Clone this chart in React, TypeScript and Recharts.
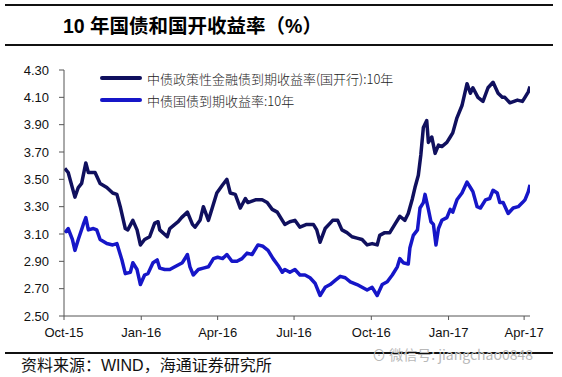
import { LineChart, Line, XAxis, YAxis } from "recharts";

const C = {
  cdb: "#10105e",
  cgb: "#1616c8",
  axis: "#555",
  text: "#111",
  legendText: "#222",
  rule: "#111",
  watermark: "#b8b8b8",
};

// x = days since 2015-10-01
const tickDays = [0, 92, 183, 274, 366, 458, 548];
const tickLabels = ["Oct-15", "Jan-16", "Apr-16", "Jul-16", "Oct-16", "Jan-17", "Apr-17"];
const yTicks = [2.5, 2.7, 2.9, 3.1, 3.3, 3.5, 3.7, 3.9, 4.1, 4.3];

// 中债政策性金融债到期收益率(国开行):10年
const cdbDays = [
  1, 5, 13, 17, 21, 26, 29, 33, 37, 43, 51, 58, 63, 67, 73, 76, 82, 87, 91, 96,
  102, 108, 112, 114, 123, 126, 132, 136, 140, 147, 153, 156, 162, 166, 172, 176, 182, 189, 194, 198,
  204, 210, 216, 219, 228, 236, 242, 248, 254, 260, 263, 269, 275, 281, 289, 297, 301, 305, 311, 317,
  320, 326, 331, 337, 343, 349, 355, 361, 367, 373, 376, 382, 388, 394, 400, 406, 410, 415, 418, 422,
  425, 428, 432, 434, 438, 442, 446, 450, 456, 460, 463, 468, 474, 480, 484, 487, 493, 499, 505, 511,
  517, 522, 525, 531, 540, 546, 549, 553, 555,
];
const cdbYield = [
  3.58, 3.55, 3.37, 3.44, 3.47, 3.62, 3.55, 3.55, 3.55, 3.47, 3.44, 3.4, 3.39, 3.3, 3.14, 3.13, 3.2, 3.13, 3.02, 3.06,
  3.08, 3.18, 3.19, 3.13, 3.08, 3.14, 3.17, 3.19, 3.22, 3.26, 3.17, 3.15, 3.2, 3.3, 3.2, 3.28, 3.4, 3.46, 3.5, 3.4,
  3.39, 3.29, 3.36, 3.33, 3.35, 3.35, 3.33, 3.28, 3.26, 3.2, 3.17, 3.19, 3.2, 3.15, 3.17, 3.17, 3.13, 3.04, 3.14, 3.18,
  3.2, 3.2, 3.13, 3.11, 3.08, 3.07, 3.06, 3.02, 3.03, 3.02, 3.09, 3.11, 3.11, 3.17, 3.23, 3.2, 3.25, 3.36, 3.44, 3.53,
  3.68, 3.88, 3.93, 3.77, 3.81, 3.69, 3.75, 3.74, 3.77, 3.81, 3.84, 3.95, 4.04, 4.2, 4.13, 4.17, 4.1, 4.07, 4.17, 4.21,
  4.13, 4.1, 4.1, 4.06, 4.08, 4.07, 4.1, 4.14, 4.18,
];

// 中债国债到期收益率:10年
const cgbDays = [
  1, 5, 10, 13, 17, 23, 26, 29, 35, 39, 43, 51, 58, 63, 69, 73, 79, 82, 87, 91,
  96, 100, 106, 111, 114, 120, 126, 132, 141, 147, 150, 154, 160, 166, 172, 178, 183, 189, 194, 200,
  206, 212, 218, 224, 231, 237, 243, 249, 255, 260, 263, 269, 275, 281, 287, 293, 299, 305, 311, 317,
  323, 329, 335, 341, 349, 355, 361, 367, 373, 379, 385, 391, 397, 400, 404, 410, 412, 416, 421, 424,
  428, 430, 434, 437, 440, 443, 446, 450, 456, 460, 463, 468, 474, 480, 484, 487, 492, 496, 502, 507,
  511, 516, 519, 523, 529, 535, 541, 546, 549, 553, 555,
];
const cgbYield = [
  3.11, 3.14, 3.06, 2.98, 3.06, 3.17, 3.22, 3.13, 3.14, 3.13, 3.06, 3.03, 3.02, 3.03, 2.91, 2.81, 2.82, 2.89, 2.84, 2.73,
  2.8, 2.81, 2.89, 2.91, 2.85, 2.84, 2.84, 2.86, 2.89, 2.95, 2.86, 2.8, 2.84, 2.85, 2.86, 2.92, 2.93, 2.92, 2.95, 2.9,
  2.9, 2.92, 2.96, 2.95, 3.02, 3.01, 2.98, 2.92, 2.87, 2.82, 2.84, 2.82, 2.84, 2.8, 2.8, 2.78, 2.74, 2.65, 2.71, 2.73,
  2.76, 2.79, 2.78, 2.75, 2.73, 2.71, 2.69, 2.71, 2.65, 2.73, 2.75, 2.8, 2.86, 2.92, 2.89, 2.88, 3.0, 3.09, 3.13, 3.29,
  3.33, 3.39, 3.28, 3.19, 3.17, 3.02, 3.14, 3.2, 3.22, 3.28, 3.26, 3.35, 3.4, 3.48, 3.44, 3.41, 3.3, 3.29, 3.35, 3.36,
  3.42, 3.4, 3.33, 3.33, 3.25, 3.29, 3.3, 3.33, 3.35, 3.41, 3.46,
];

const cdbData = cdbDays.map((day, i) => ({ day, value: cdbYield[i] }));
const cgbData = cgbDays.map((day, i) => ({ day, value: cgbYield[i] }));

const SERIES = [
  { name: "中债政策性金融债到期收益率(国开行):10年", color: C.cdb, data: cdbData },
  { name: "中债国债到期收益率:10年", color: C.cgb, data: cgbData },
];

function LegendBox() {
  return (
    <div style={{ position: "absolute", left: 100, top: 67 }}>
      {SERIES.map((s) => (
        <div key={s.name} style={{ display: "flex", alignItems: "center", height: 22 }}>
          <span style={{ display: "inline-block", width: 42, height: 4, background: s.color, borderRadius: 2, marginRight: 5 }} />
          <span style={{ fontFamily: "'Noto Sans CJK SC', sans-serif", fontSize: 13, color: C.legendText, fontWeight: 300, whiteSpace: "nowrap" }}>
            {s.name}
          </span>
        </div>
      ))}
    </div>
  );
}

const tickStyle = { fill: C.text, fontSize: 13, fontFamily: "'Liberation Sans', Arial, sans-serif" };

export default function App() {
  return (
    <div style={{ position: "absolute", left: 0, top: 0, width: 562, height: 377, background: "#fff", overflow: "hidden" }}>
      <div style={{ position: "absolute", left: 5, top: 4, width: 548, height: 2, background: C.rule }} />
      <div
        style={{
          position: "absolute",
          left: 63,
          top: 14,
          fontSize: 19.5,
          lineHeight: "24px",
          fontWeight: 700,
          color: "#000",
          fontFamily: "'Liberation Sans', 'Noto Sans CJK SC', sans-serif",
          whiteSpace: "nowrap",
        }}
      >
        10 年国债和国开收益率（%）
      </div>
      <div style={{ position: "absolute", left: 5, top: 44, width: 548, height: 2, background: C.rule }} />

      <div style={{ position: "absolute", left: 0, top: 0 }}>
        <LineChart width={562} height={377} margin={{ top: 70, right: 32, left: 0, bottom: 31 }}>
          <XAxis
            type="number"
            dataKey="day"
            domain={[0, 555]}
            ticks={tickDays}
            tickFormatter={(v) => tickLabels[tickDays.indexOf(v)] ?? ""}
            tick={tickStyle}
            tickSize={4}
            tickMargin={8}
            height={30}
            stroke={C.axis}
            interval={0}
            allowDataOverflow
          />
          <YAxis
            type="number"
            domain={[2.5, 4.3]}
            ticks={yTicks}
            tickFormatter={(v) => v.toFixed(2)}
            tick={tickStyle}
            tickSize={5}
            tickMargin={10}
            width={64}
            stroke={C.axis}
            interval={0}
          />
          {SERIES.map((s) => (
            <Line
              key={s.name}
              data={s.data}
              dataKey="value"
              name={s.name}
              type="linear"
              stroke={s.color}
              strokeWidth={3.5}
              strokeLinejoin="round"
              dot={false}
              activeDot={false}
              isAnimationActive={false}
            />
          ))}
        </LineChart>
      </div>
      <LegendBox />

      <div style={{ position: "absolute", left: 5, top: 352, width: 548, height: 2, background: C.rule }} />
      <div
        style={{
          position: "absolute",
          left: 372,
          top: 344,
          fontSize: 14,
          color: C.watermark,
          fontFamily: "'Noto Sans CJK SC', sans-serif",
          whiteSpace: "nowrap",
        }}
      >
        ⊙ 微信号: jiangchao0848
      </div>
      <div
        style={{
          position: "absolute",
          left: 21,
          top: 356,
          fontSize: 16,
          lineHeight: "20px",
          color: "#111",
          fontFamily: "'Liberation Sans', 'Noto Sans CJK SC', sans-serif",
          whiteSpace: "nowrap",
        }}
      >
        资料来源：WIND，海通证券研究所
      </div>
    </div>
  );
}
